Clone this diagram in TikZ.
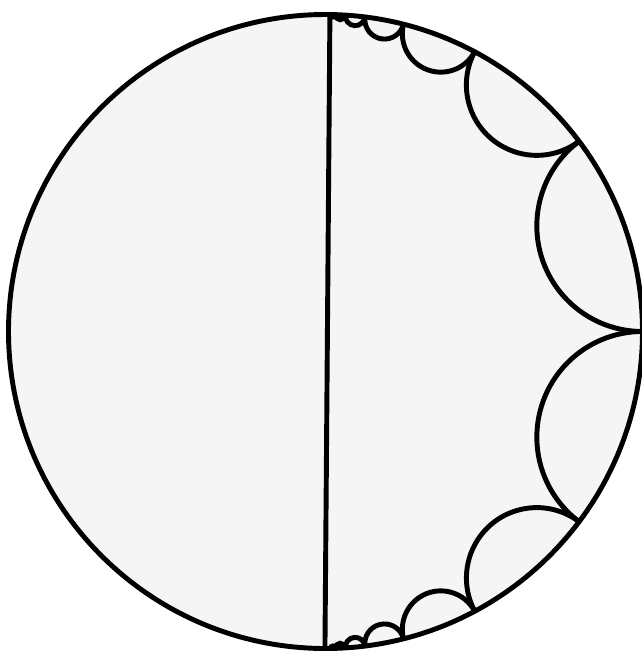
\documentclass[tikz,border=0pt]{standalone}
\usepackage{tikz}
\begin{document}
\begin{tikzpicture}[line width=1.4pt]
\useasboundingbox (-3.255,-3.205) rectangle (3.165,3.315);
\def\R{3.17}

\fill[black!4] (0,0) circle(\R);
\draw (0,0) circle(\R); % disco

\draw (89.2:\R) -- (-90.1:\R); % eje

% geodesicas entre los puntos 2^n
\foreach \n in {-7,...,6}{
  \pgfmathsetmacro{\a}{2*atan(pow(2,\n))-90}
  \pgfmathsetmacro{\b}{2*atan(pow(2,\n+1))-90}
  \pgfmathsetmacro{\m}{(\a+\b)/2}
  \pgfmathsetmacro{\d}{(\b-\a)/2}
  \draw (\b:\R) arc[start angle=\m+90+\d, end angle=\m+270-\d, radius={\R*tan(\d)}];
}

\end{tikzpicture}
\end{document}
